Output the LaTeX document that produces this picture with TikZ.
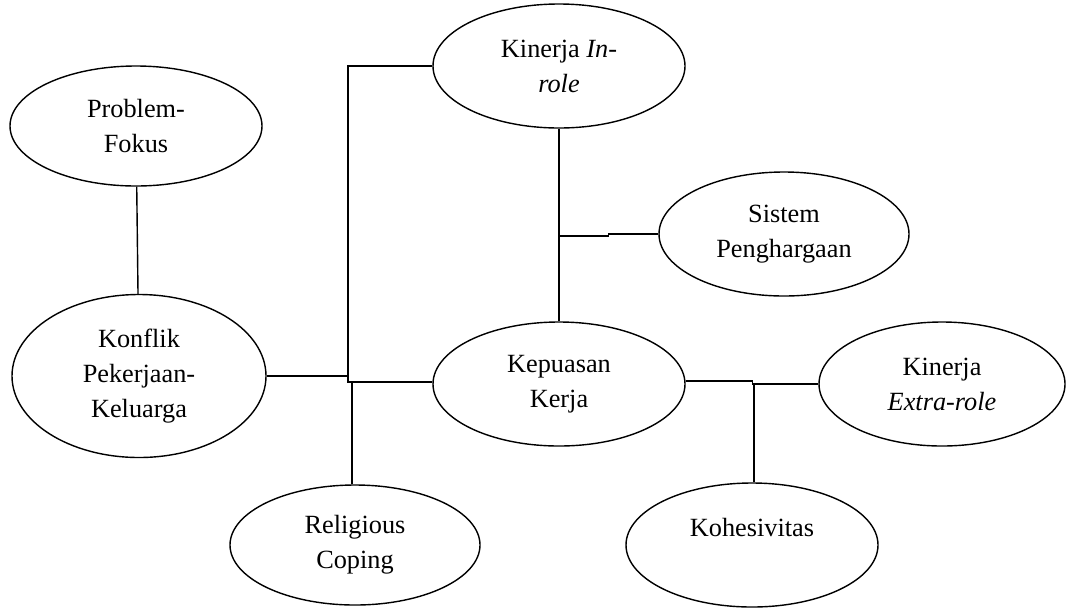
\documentclass[tikz,border=0pt]{standalone}
\usepackage{fontspec}
\setmainfont{Liberation Serif}
\usetikzlibrary{shapes.geometric}
\begin{document}
\begin{tikzpicture}[line width=1pt,
	oval/.style={draw, ellipse, inner sep=0pt, align=center,
		minimum width=6.3cm, minimum height=3.1cm,
		font=\fontsize{18.7}{24.9}\selectfont}]
		\useasboundingbox (0,0) rectangle (26.65,-15.2);
		%
		\node (fokus)   at (3.4,-3.15)  [oval, minimum height=3.0cm] {Problem-\\Fokus};
		\node (konflik)   at (3.475,-9.4)  [oval, minimum width=6.35cm, minimum height=4.075cm] {Konflik\\Pekerjaan-\\Keluarga};
		%
		\node (inrole)   at (13.975,-1.65)  [oval] {Kinerja \textit{In-}\\\textit{role}};
		\node (sistem)   at (19.6,-5.85)  [oval, minimum width=6.25cm] {Sistem\\Penghargaan};
		\node (kepuasan)   at (13.975,-9.6)  [oval] {Kepuasan\\Kerja};
		\node (extrarole)   at (23.55,-9.6)  [oval, minimum width=6.15cm] {Kinerja\\\textit{Extra-role}};
		%
		\node (religious)   at (8.875,-13.625)  [oval, minimum width=6.25cm, minimum height=3.0cm] {Religious\\Coping};
		\node (kohesi)   at (18.8,-13.625)  [oval] {Kohesivitas\\~};
		%
		\coordinate (lead) at (8.7,-9.55);
		%
		\draw (fokus) -- (konflik);
		\draw (konflik.east) -- (konflik.east -| lead);
		\draw (inrole.west) -| (lead) -- (lead -| kepuasan.west);
		\draw (religious.north -| 8.8,0) -- (lead -| 8.8,0);
		% tengah
		\draw (inrole) -- (kepuasan);
		\draw (sistem.west) -- ++(-1.25,0) -- ++(0,-0.05) -- ++(-1.25,0);
		% kanan
		\draw ([yshift=2pt]kepuasan.east) -- ++(1.675,0) |- (extrarole.west);
		\draw (kohesi.north -| 18.85,0) -- (extrarole.west -| 18.85,0);
	\end{tikzpicture}
\end{document}
